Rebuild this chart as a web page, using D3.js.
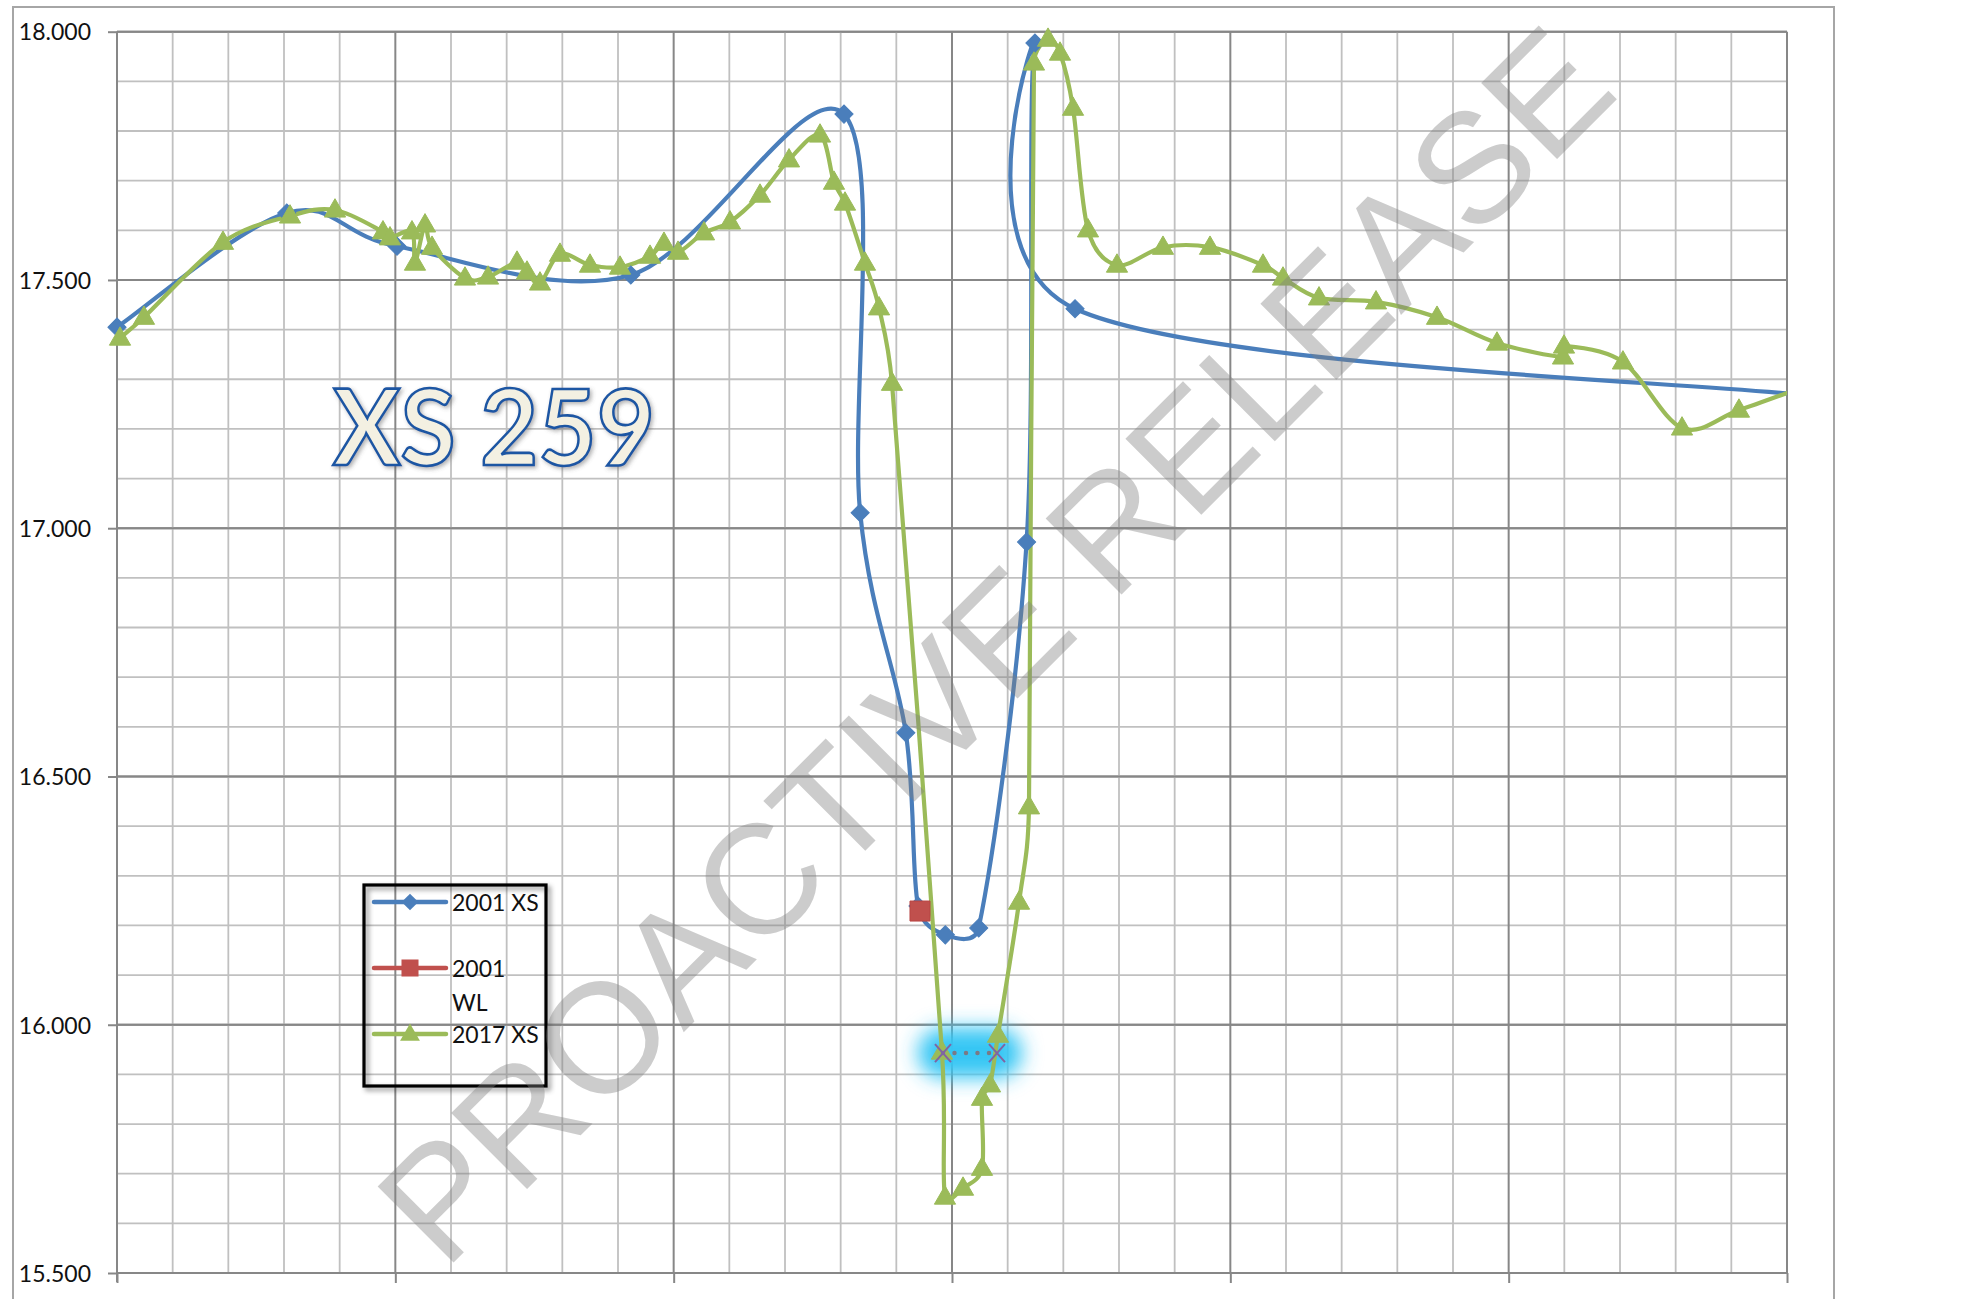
<!DOCTYPE html>
<html><head><meta charset="utf-8">
<script src="https://cdn.jsdelivr.net/npm/d3@7"></script>
<style>
html,body{margin:0;padding:0;background:#fff;}
svg{display:block;}
</style></head>
<body>
<svg id="chart" width="1982" height="1299"></svg>
<script>
// ---------- data ----------
const xs2001X = [0, 30.5, 50.3, 92.3, 130.6, 133.5, 141.7, 143.9, 148.8, 154.8, 163.4, 164.9, 172.1, 304];
const xs2001Y = [17.405, 17.635, 17.568, 17.510, 17.834, 17.031, 16.588, 16.239, 16.181, 16.195, 16.972, 17.977, 17.442, 17.267];

const wl2001X = [144.25];
const wl2001Y = [16.229];

const xs2017X = [0.54, 4.85, 19.04, 31.08, 39.16, 47.78, 49.04, 52.99, 53.53, 55.33, 56.59, 62.51, 66.65, 71.86, 73.65, 75.99, 79.58, 84.97, 90.36, 95.75, 98.26, 100.78, 105.45, 110.12, 115.51, 120.72, 126.29, 128.80, 130.78, 134.37, 136.89, 139.22, 148.20, 148.74, 151.98, 155.39, 155.39, 156.83, 158.26, 162.04, 163.83, 164.73, 167.25, 169.40, 171.74, 174.43, 179.64, 187.90, 196.35, 205.87, 209.46, 215.93, 226.17, 237.13, 247.90, 259.76, 259.94, 270.53, 281.14, 291.37, 302.34];
const xs2017Y = [17.383, 17.425, 17.576, 17.629, 17.641, 17.597, 17.585, 17.597, 17.534, 17.611, 17.566, 17.504, 17.506, 17.536, 17.516, 17.494, 17.552, 17.530, 17.526, 17.548, 17.574, 17.556, 17.595, 17.617, 17.671, 17.742, 17.792, 17.697, 17.655, 17.534, 17.444, 17.292, 15.945, 15.653, 15.671, 15.711, 15.852, 15.879, 15.979, 16.247, 16.439, 17.937, 17.985, 17.957, 17.846, 17.601, 17.530, 17.566, 17.566, 17.530, 17.504, 17.464, 17.456, 17.425, 17.373, 17.345, 17.367, 17.335, 17.202, 17.238, 17.282];

const wl2017X = [148.38, 158.08];
const wl2017Y = [15.943, 15.943];

const yTickValues = [15.5, 16.0, 16.5, 17.0, 17.5, 18.0];
const yTickLabels = ["15.500", "16.000", "16.500", "17.000", "17.500", "18.000"];
const xMajorTicks = [0, 50, 100, 150, 200, 250, 300];
const legendNames = [["2001 XS"], ["2001", "WL"], ["2017 XS"]];
const titleText = "XS 259";
const watermarkText = "PROACTIVE RELEASE";

// ---------- setup ----------
const svg = d3.select("#chart");
const L = 117, R = 1787, T = 31.7, B = 1273;
const x = d3.scaleLinear().domain([0, 300]).range([L, R]);
const y = d3.scaleLinear().domain([15.5, 18]).range([B, T]);

const C = {blue: "#4a7ebb", red: "#c0504d", green: "#9bbb59", purple: "#8064a2"};

const defs = svg.append("defs");
defs.append("clipPath").attr("id", "plotClip")
  .append("rect").attr("x", L).attr("y", T - 1).attr("width", R - L).attr("height", B - T + 2);
const glow = defs.append("filter").attr("id", "glow").attr("filterUnits", "userSpaceOnUse")
  .attr("x", 820).attr("y", 950).attr("width", 300).attr("height", 210);
glow.append("feGaussianBlur").attr("stdDeviation", 10);
const shadow = defs.append("filter").attr("id", "shadow").attr("filterUnits", "userSpaceOnUse")
  .attr("x", 340).attr("y", 860).attr("width", 240).attr("height", 260);
shadow.append("feDropShadow").attr("dx", 3).attr("dy", 3).attr("stdDeviation", 2.5)
  .attr("flood-color", "#000").attr("flood-opacity", 0.45);
const tshadow = defs.append("filter").attr("id", "tshadow")
  .attr("x", "-10%").attr("y", "-20%").attr("width", "130%").attr("height", "150%");
tshadow.append("feDropShadow").attr("dx", 2).attr("dy", 2).attr("stdDeviation", 2)
  .attr("flood-color", "#555").attr("flood-opacity", 0.45);

// outer frame
svg.append("rect").attr("x", 13).attr("y", 7).attr("width", 1821).attr("height", 1400)
  .attr("fill", "none").attr("stroke", "#a6a6a6").attr("stroke-width", 2);

// ---------- grid ----------
const grid = svg.append("g");
const yMinor = d3.range(0, 26).map(i => 15.5 + i * 0.1);
yMinor.forEach((v, i) => {
  const major = i % 5 === 0;
  grid.append("line").attr("x1", L).attr("x2", R).attr("y1", y(v)).attr("y2", y(v))
    .attr("stroke", major ? "#878787" : "#c0c0c0").attr("stroke-width", major ? 2 : 1.8);
});
const xMinor = d3.range(0, 31).map(i => i * 10);
xMinor.forEach((v, i) => {
  const major = i % 5 === 0;
  grid.append("line").attr("x1", x(v)).attr("x2", x(v)).attr("y1", T).attr("y2", B)
    .attr("stroke", major ? "#878787" : "#c0c0c0").attr("stroke-width", major ? 2 : 1.8);
});
yMinor.forEach((v, i) => { if (i % 5 === 0)
  grid.append("line").attr("x1", L).attr("x2", R).attr("y1", y(v)).attr("y2", y(v))
    .attr("stroke", "#878787").attr("stroke-width", 2); });

// ---------- axes ----------
const yAxis = d3.axisLeft(y).tickValues(yTickValues)
  .tickFormat((d, i) => yTickLabels[i]).tickSize(9).tickPadding(17);
const yg = svg.append("g").attr("transform", `translate(${L},0)`).call(yAxis);
yg.select(".domain").remove();
yg.append("line").attr("x1", 0).attr("x2", 0).attr("y1", T).attr("y2", B + 9)
  .attr("stroke", "#878787").attr("stroke-width", 2);
yg.selectAll(".tick line").attr("stroke", "#878787").attr("stroke-width", 2);
yg.selectAll(".tick text").attr("font-family", "Lato, 'Liberation Sans', sans-serif")
  .attr("font-size", 23).attr("fill", "#111").attr("dy", "0.36em");

const xAxis = d3.axisBottom(x).tickValues(xMajorTicks).tickFormat("").tickSize(10);
const xg = svg.append("g").attr("transform", `translate(0,${B})`).call(xAxis);
xg.select(".domain").remove();
xg.selectAll(".tick line").attr("stroke", "#878787").attr("stroke-width", 2);

// ---------- title text ----------
svg.append("text").attr("x", 333).attr("y", 465)
  .attr("font-family", "Lato, 'Open Sans', sans-serif").attr("font-weight", 700)
  .attr("font-size", 106).attr("textLength", 322).attr("lengthAdjust", "spacingAndGlyphs")
  .attr("fill", "#f3f0e2").attr("stroke", "#1f56a3").attr("stroke-width", 2.6)
  .attr("filter", "url(#tshadow)").text(titleText);

// ---------- smoothing like a spreadsheet "smoothed line" ----------
function smoothPath(data) {
  const pts = data.map(d => [x(d[0]), y(d[1])]);
  const p = d3.path();
  p.moveTo(pts[0][0], pts[0][1]);
  for (let i = 0; i < pts.length - 1; i++) {
    const p0 = pts[i - 1] || pts[i], p1 = pts[i], p2 = pts[i + 1], p3 = pts[i + 2] || pts[i + 1];
    const seg = Math.hypot(p2[0] - p1[0], p2[1] - p1[1]);
    let t1 = [(p2[0] - p0[0]) / 6, (p2[1] - p0[1]) / 6];
    let t2 = [(p3[0] - p1[0]) / 6, (p3[1] - p1[1]) / 6];
    const lim = seg / 2;
    const l1 = Math.hypot(t1[0], t1[1]), l2 = Math.hypot(t2[0], t2[1]);
    if (l1 > lim) t1 = t1.map(v => v * lim / l1);
    if (l2 > lim) t2 = t2.map(v => v * lim / l2);
    p.bezierCurveTo(p1[0] + t1[0], p1[1] + t1[1], p2[0] - t2[0], p2[1] - t2[1], p2[0], p2[1]);
  }
  return p.toString();
}

// ---------- series ----------
const zip = (a, b) => a.map((v, i) => [v, b[i]]);
const d2001 = zip(xs2001X, xs2001Y);
const dwl01 = zip(wl2001X, wl2001Y);
const d2017 = zip(xs2017X, xs2017Y);
const dwl17 = zip(wl2017X, wl2017Y);
const straight = d3.line().x(d => x(d[0])).y(d => y(d[1]));

const series = svg.append("g");
// glow of 2017 WL
series.append("path").attr("d", straight(dwl17))
  .attr("stroke", "#36c6f4").attr("stroke-width", 50).attr("stroke-linecap", "round")
  .attr("fill", "none").attr("filter", "url(#glow)");

const clipped = series.append("g").attr("clip-path", "url(#plotClip)");
clipped.append("path").attr("d", smoothPath(d2001)).attr("fill", "none")
  .attr("stroke", C.blue).attr("stroke-width", 4.2).attr("stroke-linejoin", "round");

const inDom = d => d[0] >= 0 && d[0] <= 300;
const diamond = d3.symbol(d3.symbolSquare, 165)();
const square = d3.symbol(d3.symbolSquare, 400)();
const tri = d3.symbol(d3.symbolTriangle, 195)();

series.append("g").selectAll("path").data(d2001.filter(inDom)).join("path")
  .attr("d", diamond).attr("transform", d => `translate(${x(d[0])},${y(d[1])}) rotate(45)`)
  .attr("fill", C.blue).attr("stroke", C.blue).attr("stroke-width", 1);

series.append("g").selectAll("path").data(dwl01).join("path")
  .attr("d", square).attr("transform", d => `translate(${x(d[0])},${y(d[1])})`)
  .attr("fill", C.red).attr("stroke", "#b84542").attr("stroke-width", 1);

clipped.append("path").attr("d", smoothPath(d2017)).attr("fill", "none")
  .attr("stroke", C.green).attr("stroke-width", 4.2).attr("stroke-linejoin", "round");
series.append("g").selectAll("path").data(d2017.filter(inDom)).join("path")
  .attr("d", tri).attr("transform", d => `translate(${x(d[0])},${y(d[1]) + 1})`)
  .attr("fill", C.green).attr("stroke", C.green).attr("stroke-width", 1);

// 2017 WL dotted line with X markers
series.append("path").attr("d", straight(dwl17))
  .attr("fill", "none").attr("stroke", "#7a7a86").attr("stroke-width", 4.5)
  .attr("stroke-linecap", "round").attr("stroke-dasharray", "0 11.5");
const xg2 = series.append("g").selectAll("g").data(dwl17).join("g")
  .attr("transform", d => `translate(${x(d[0])},${y(d[1])})`);
xg2.append("path").attr("d", "M-8,-9L8,9M-8,9L8,-9").attr("stroke", C.purple)
  .attr("stroke-width", 2).attr("fill", "none");

// ---------- legend ----------
const lg = svg.append("g");
lg.append("rect").attr("x", 364).attr("y", 885).attr("width", 182).attr("height", 201)
  .attr("fill", "none").attr("stroke", "#000").attr("stroke-width", 3.2).attr("filter", "url(#shadow)");
const legendColors = [C.blue, C.red, C.green];
const legendMarks = [d3.symbol(d3.symbolSquare, 140)(), d3.symbol(d3.symbolSquare, 290)(), d3.symbol(d3.symbolTriangle, 170)()];
const legendLineY = [902, 968, 1034];
legendNames.forEach((lines, i) => {
  const ly = legendLineY[i];
  lg.append("line").attr("x1", 374).attr("x2", 446).attr("y1", ly).attr("y2", ly)
    .attr("stroke", legendColors[i]).attr("stroke-width", 4.5).attr("stroke-linecap", "round");
  lg.append("path").attr("d", legendMarks[i])
    .attr("transform", `translate(410,${ly + (i === 2 ? 1 : 0)})${i === 0 ? " rotate(45)" : ""}`)
    .attr("fill", legendColors[i]);
  lines.forEach((t, j) => {
    lg.append("text").attr("x", 452).attr("y", ly + 8.5 + j * 34)
      .attr("font-family", "Lato, 'Liberation Sans', sans-serif").attr("font-size", 23)
      .attr("fill", "#111").text(t);
  });
});

// ---------- watermark ----------
svg.append("text").attr("transform", "translate(1033,683) rotate(-45)")
  .attr("text-anchor", "middle")
  .attr("font-family", "'Liberation Sans', Arial, sans-serif").attr("font-size", 156)
  .attr("fill", "#808080").attr("fill-opacity", 0.4).text(watermarkText);
</script>
</body></html>
